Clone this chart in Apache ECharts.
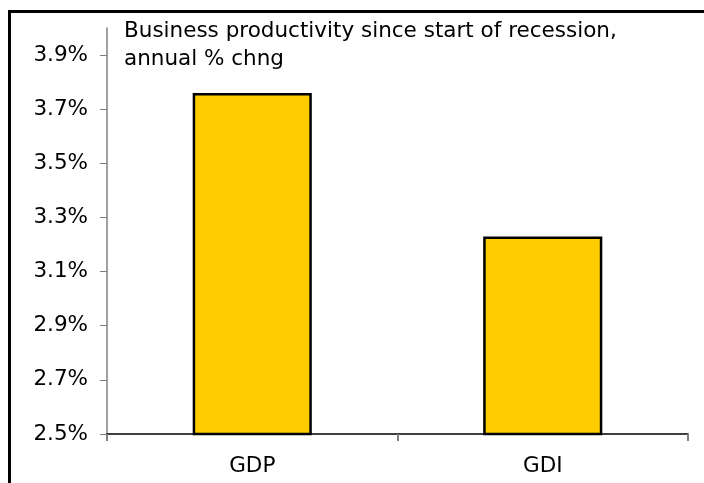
<!DOCTYPE html>
<html>
<head>
<meta charset="utf-8">
<script src="https://cdn.jsdelivr.net/npm/echarts@6/dist/echarts.min.js"></script>
<style>
  html, body { margin: 0; padding: 0; background: #fff; }
  #chart { width: 704px; height: 483px; }
</style>
</head>
<body>
<div id="chart"></div>
<script>
// Business productivity since start of recession, annual % change
const categories = ['GDP', 'GDI'];
const productivity = [3.76, 3.23];
const yTicks = [2.5, 2.7, 2.9, 3.1, 3.3, 3.5, 3.7, 3.9];
const titleLines = ['Business productivity since start of recession,', 'annual % chng'];

const FONT = '"DejaVu Sans", Verdana, sans-serif';
const FS = 21.5;

const chart = echarts.init(document.getElementById('chart'), null, { renderer: 'canvas' });

chart.setOption({
  animation: false,
  backgroundColor: '#ffffff',
  grid: { left: 107, right: 16, top: 28, bottom: 49, containLabel: false },
  graphic: [
    {
      type: 'rect',
      shape: { x: 9.5, y: 11.5, width: 760, height: 520 },
      style: { fill: 'none', stroke: '#000', lineWidth: 3 },
      silent: true
    },
    {
      type: 'text',
      left: 124,
      top: 17,
      style: {
        text: titleLines.join('\n'),
        font: FS + 'px ' + FONT,
        fill: '#000',
        lineHeight: 28
      }
    }
  ],
  xAxis: {
    type: 'category',
    data: categories,
    axisLine: { show: true, lineStyle: { color: '#000', width: 1.5 } },
    axisTick: { show: true, length: 7, alignWithLabel: false, lineStyle: { color: '#808080', width: 2 } },
    axisLabel: { color: '#000', fontSize: FS, fontFamily: FONT, margin: 21 },
    splitLine: { show: false }
  },
  yAxis: {
    type: 'value',
    min: 2.5,
    max: 4.0,
    interval: 0.1,
    axisLine: { show: true, lineStyle: { color: '#808080', width: 1.5 } },
    axisTick: { show: true, length: 7, customValues: yTicks, lineStyle: { color: '#808080', width: 1 } },
    axisLabel: {
      customValues: yTicks,
      color: '#000',
      fontSize: FS,
      fontFamily: FONT,
      margin: 19,
      formatter: v => v.toFixed(1) + '%'
    },
    splitLine: { show: false }
  },
  series: [{
    type: 'bar',
    data: productivity,
    barWidth: '41%',
    itemStyle: { color: '#FFCC00', borderColor: '#000', borderWidth: 2.5 }
  }]
});
</script>
</body>
</html>
